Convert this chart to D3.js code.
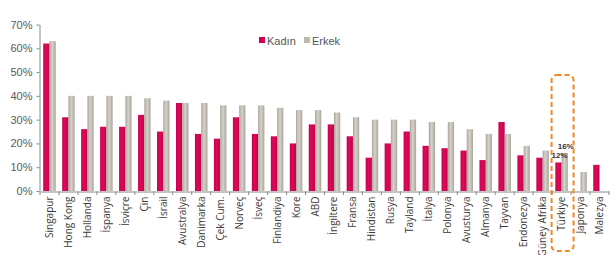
<!DOCTYPE html>
<html><head><meta charset="utf-8">
<script src="https://cdn.jsdelivr.net/npm/d3@7"></script>
<style>body{margin:0;background:#fff}svg{display:block}</style>
</head><body>
<svg id="c" width="610" height="255"></svg>
<script>
const categories = ["Singapur","Hong Kong","Hollanda","İspanya","İsviçre","Çin","İsrail","Avustralya","Danimarka","Çek Cum.","Norveç","İsveç","Finlandiya","Kore","ABD","İngiltere","Fransa","Hindistan","Rusya","Tayland","İtalya","Polonya","Avusturya","Almanya","Tayvan","Endonezya","Güney Afrika","Türkiye","Japonya","Malezya"];
const kadin = [62,31,26,27,27,32,25,37,24,22,31,24,23,20,28,28,23,14,20,25,19,18,17,13,29,15,14,12,null,11];
const erkek = [63,40,40,40,40,39,38,37,37,36,36,36,35,34,34,33,31,30,30,30,29,29,26,24,24,19,17,16,8,null];
const yTicks = [0,10,20,30,40,50,60,70];
const seriesNames = ["Kadın","Erkek"];
const highlight = "Türkiye";

const svg = d3.select("#c");
const defs = svg.append("defs");
const g1 = defs.append("linearGradient").attr("id","gE").attr("x1","0").attr("x2","1").attr("y1","0").attr("y2","0");
g1.append("stop").attr("offset","0").attr("stop-color","#a9a59c");
g1.append("stop").attr("offset","0.45").attr("stop-color","#d6d2ca");
g1.append("stop").attr("offset","1").attr("stop-color","#aaa69e");
const g2 = defs.append("linearGradient").attr("id","gK").attr("x1","0").attr("x2","1").attr("y1","0").attr("y2","0");
g2.append("stop").attr("offset","0").attr("stop-color","#c8004c");
g2.append("stop").attr("offset","0.45").attr("stop-color","#dc0a5a");
g2.append("stop").attr("offset","1").attr("stop-color","#c4004a");

const x = d3.scaleBand().domain(categories).range([40, 609]).padding(0);
const xs = d3.scaleBand().domain(seriesNames).range([x.bandwidth()*0.17, x.bandwidth()*0.83]).padding(0);
const y = d3.scaleLinear().domain([0,70]).range([191, 24.5]);

// y axis
const ya = svg.append("g").attr("transform","translate(39.5,0)")
  .call(d3.axisLeft(y).tickValues(yTicks).tickFormat(d=>d+"%").tickSize(3).tickSizeOuter(0));
ya.select(".domain").attr("stroke","#8a8a8a");
ya.selectAll(".tick line").attr("stroke","#8a8a8a");
ya.selectAll("text").attr("fill","#5a5a5a").attr("font-family","Liberation Sans, Arial, sans-serif").attr("font-size","11px").attr("x",-7);

// bars
const data = categories.map((c,i)=>({c, Kadın:kadin[i], Erkek:erkek[i]}));
const grp = svg.append("g").selectAll("g").data(data).join("g").attr("transform",d=>`translate(${x(d.c)},0)`);
grp.selectAll("rect").data(d=>seriesNames.map(k=>({k, v:d[k]})).filter(e=>e.v!=null)).join("rect")
  .attr("x",e=>xs(e.k)).attr("width",xs.bandwidth())
  .attr("y",e=>y(e.v)).attr("height",e=>y(0)-y(e.v))
  .attr("fill",e=>e.k==="Kadın"?"url(#gK)":"url(#gE)");

// x axis
const xa = svg.append("g").attr("transform","translate(0,191.5)")
  .call(d3.axisBottom(x).tickSize(0).tickSizeOuter(0));
xa.select(".domain").attr("stroke","#8a8a8a");
xa.selectAll(".tick text").attr("transform","rotate(-90)").attr("text-anchor","end")
  .attr("x",-5).attr("y",0).attr("dy","0.35em")
  .attr("fill","#3a3a3a").attr("font-family","Open Sans, sans-serif").attr("font-size","10px");
svg.append("g").selectAll("line").data(categories.concat(["__end"])).join("line")
  .attr("x1",(d,i)=>40+i*x.bandwidth()).attr("x2",(d,i)=>40+i*x.bandwidth())
  .attr("y1",191.5).attr("y2",195).attr("stroke","#8a8a8a");

// value labels for highlighted
const hi = categories.indexOf(highlight);
svg.append("text").attr("x",x(highlight)+xs("Erkek")+xs.bandwidth()/2+1).attr("y",y(erkek[hi])-4)
  .attr("text-anchor","middle").attr("font-family","Liberation Sans, Arial, sans-serif").attr("font-size","8px").attr("font-weight","bold").attr("fill","#333").text(erkek[hi]+"%");
svg.append("text").attr("x",x(highlight)+xs("Kadın")+xs.bandwidth()/2+1).attr("y",y(kadin[hi])-4)
  .attr("text-anchor","middle").attr("font-family","Liberation Sans, Arial, sans-serif").attr("font-size","8px").attr("font-weight","bold").attr("fill","#333").text(kadin[hi]+"%");

// highlight box
svg.append("rect").attr("x",x(highlight)-0.5).attr("y",75).attr("width",x.bandwidth()+3).attr("height",176)
  .attr("rx",5).attr("fill","none").attr("stroke","#f08a24").attr("stroke-width",2).attr("stroke-dasharray","5,3");

// legend
const lg = svg.append("g").attr("font-family","Liberation Sans, Arial, sans-serif").attr("font-size","11px").attr("fill","#555");
const lx = [259, 304];
seriesNames.forEach((s,i)=>{
  lg.append("rect").attr("x",lx[i]).attr("y",37).attr("width",6).attr("height",6).attr("fill",i===0?"#d2004f":"#bdb9b1");
  lg.append("text").attr("x",lx[i]+8).attr("y",44.5).text(s);
});
</script>
</body></html>
